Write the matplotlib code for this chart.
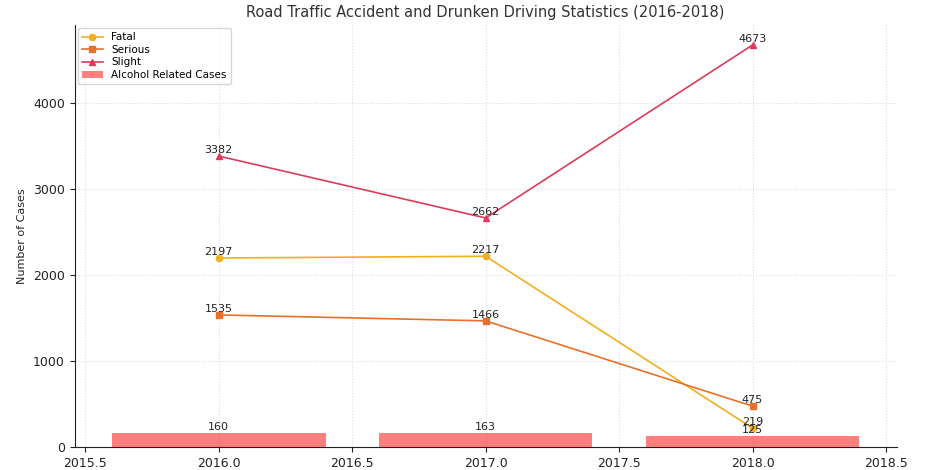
import numpy as np
import matplotlib
matplotlib.use("Agg")
import matplotlib.pyplot as plt

years = [2016, 2017, 2018]
fatal = [2197, 2217, 219]
serious = [1535, 1466, 475]
slight = [3382, 2662, 4673]
alcohol = [160, 163, 125]

fig = plt.figure(figsize=(9.33, 4.7), dpi=100)
ax = fig.add_axes([0.080, 0.049, 0.881, 0.898])

ax.plot(years, fatal, marker="o", color="#F0B020", lw=1.2, ms=4.5, label="Fatal", zorder=3)
ax.plot(years, serious, marker="s", color="#E8702A", lw=1.2, ms=4.5, label="Serious", zorder=3)
ax.plot(years, slight, marker="^", color="#DC3C5A", lw=1.2, ms=4.5, label="Slight", zorder=3)
ax.bar(years, alcohol, width=0.8, color="red", alpha=0.5, label="Alcohol Related Cases", zorder=2)

for series in (fatal, serious, slight, alcohol):
    for x, y in zip(years, series):
        ax.text(x, y + 10, str(y), ha="center", va="bottom", fontsize=8, color="#222222", zorder=4)

ax.set_title("Road Traffic Accident and Drunken Driving Statistics (2016-2018)", fontsize=10.5, color="#333333")
ax.set_xlabel("Year", fontsize=9, color="#222222")
ax.set_ylabel("Number of Cases", fontsize=8, color="#222222")
ax.set_xticks([2015.5, 2016.0, 2016.5, 2017.0, 2017.5, 2018.0, 2018.5])
ax.tick_params(labelsize=9, colors="#222222")
ax.grid(True, linestyle=":", color="#dddddd", lw=0.8, zorder=0)
ax.set_axisbelow(True)
for s in ("top", "right"):
    ax.spines[s].set_visible(False)
for s in ("left", "bottom"):
    ax.spines[s].set_color("#222222")

ax.legend(loc="upper left", fontsize=7.5, labelspacing=0.25, borderaxespad=0.3)

fig.savefig("out.png", dpi=100)
